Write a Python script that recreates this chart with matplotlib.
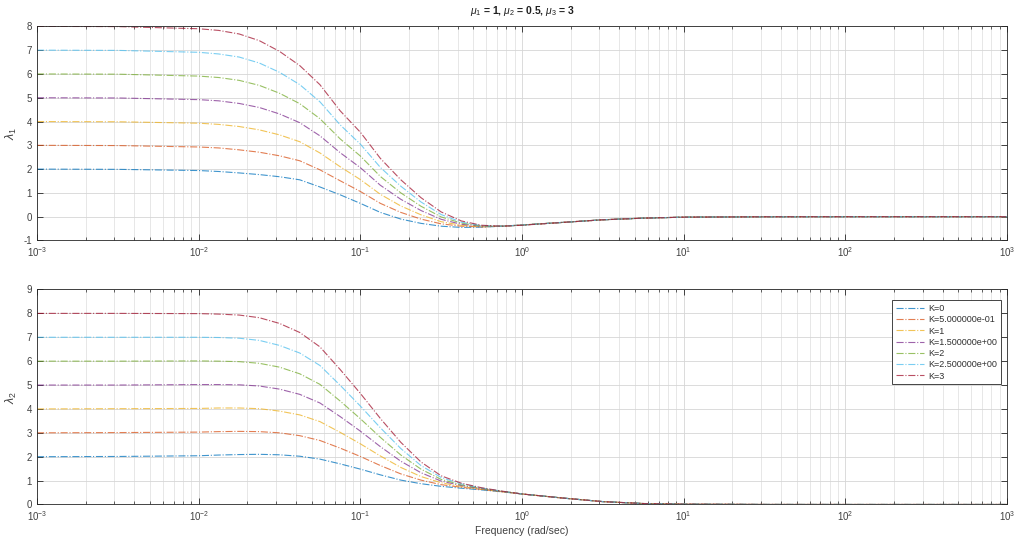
import numpy as np
import matplotlib.pyplot as plt
from matplotlib.ticker import LogLocator, NullFormatter, MultipleLocator


COLORS = {
    "blue"  : "#0072BD",
    "orange": "#D95319",
    "yellow": "#EDB120",
    "purple": "#7E2F8E",
    "green" : "#77AC30",
    "cyan"  : "#4DBEEE",
    "red"   : "#A2142F",
    "text"  : "#404040",
    "grid"  : "#d6d6d6",
    "minor" : "#e3e3e3",
}

# frequency points (rad/sec) the curves were read at
FREQ = [0.001, 0.00316, 0.01, 0.0133, 0.0178, 0.0237, 0.0316, 0.0422, 0.0562,
        0.075, 0.1, 0.133, 0.178, 0.237, 0.316, 0.422, 0.562, 0.75, 1.0,
        1.78, 3.16, 5.62, 10.0, 31.6, 100.0, 1000.0]

K_LABELS = ["K=0", "K=5.000000e-01", "K=1", "K=1.500000e+00",
            "K=2", "K=2.500000e+00", "K=3"]

# lambda_1 (top panel)
L1_K0  = [2.00, 1.99, 1.94, 1.90, 1.84, 1.77, 1.68, 1.55, 1.25, 0.92, 0.56, 0.18, -0.10,
          -0.28, -0.40, -0.45, -0.44, -0.40, -0.35, -0.24, -0.13, -0.06, -0.02, -0.003, 0.0, 0.0]
L1_K05 = [3.00, 2.99, 2.93, 2.89, 2.81, 2.71, 2.56, 2.35, 1.97, 1.51, 1.06, 0.56, 0.18,
          -0.10, -0.30, -0.40, -0.43, -0.40, -0.35, -0.24, -0.13, -0.06, -0.02, -0.003, 0.0, 0.0]
L1_K1  = [4.00, 3.99, 3.93, 3.88, 3.79, 3.65, 3.44, 3.15, 2.68, 2.10, 1.56, 0.94, 0.45,
          0.08, -0.21, -0.36, -0.42, -0.40, -0.35, -0.24, -0.13, -0.06, -0.02, -0.003, 0.0, 0.0]
L1_K15 = [5.00, 4.99, 4.92, 4.87, 4.76, 4.59, 4.32, 3.95, 3.40, 2.69, 2.06, 1.32, 0.73,
          0.26, -0.11, -0.32, -0.40, -0.40, -0.35, -0.24, -0.13, -0.06, -0.02, -0.003, 0.0, 0.0]
L1_K2  = [6.00, 5.99, 5.91, 5.85, 5.73, 5.52, 5.19, 4.75, 4.12, 3.27, 2.55, 1.69, 1.00,
          0.44, -0.01, -0.27, -0.39, -0.40, -0.35, -0.24, -0.13, -0.06, -0.02, -0.003, 0.0, 0.0]
L1_K25 = [7.00, 6.99, 6.91, 6.84, 6.71, 6.46, 6.07, 5.55, 4.83, 3.86, 3.05, 2.07, 1.28,
          0.62, 0.09, -0.23, -0.38, -0.40, -0.35, -0.24, -0.13, -0.06, -0.02, -0.003, 0.0, 0.0]
L1_K3  = [8.00, 7.99, 7.90, 7.83, 7.68, 7.40, 6.95, 6.35, 5.55, 4.45, 3.55, 2.45, 1.55,
          0.80, 0.20, -0.18, -0.36, -0.40, -0.36, -0.24, -0.13, -0.06, -0.02, -0.003, 0.0, 0.0]

# lambda_2 (bottom panel)
L2_K0  = [2.00, 2.01, 2.04, 2.07, 2.09, 2.10, 2.08, 2.02, 1.90, 1.70, 1.48, 1.24, 1.02,
          0.87, 0.76, 0.68, 0.61, 0.53, 0.44, 0.27, 0.12, 0.04, 0.012, 0.001, 0.0, 0.0]
L2_K05 = [3.00, 3.01, 3.03, 3.05, 3.06, 3.05, 3.00, 2.88, 2.68, 2.36, 2.01, 1.63, 1.28,
          1.02, 0.83, 0.72, 0.63, 0.535, 0.44, 0.27, 0.12, 0.04, 0.012, 0.001, 0.0, 0.0]
L2_K1  = [4.00, 4.01, 4.02, 4.04, 4.04, 4.01, 3.91, 3.75, 3.47, 3.02, 2.54, 2.03, 1.55,
          1.17, 0.91, 0.75, 0.64, 0.54, 0.44, 0.27, 0.12, 0.04, 0.012, 0.001, 0.0, 0.0]
L2_K15 = [5.00, 5.00, 5.02, 5.02, 5.01, 4.96, 4.83, 4.61, 4.25, 3.68, 3.07, 2.42, 1.81,
          1.33, 0.98, 0.79, 0.66, 0.545, 0.44, 0.27, 0.12, 0.04, 0.012, 0.001, 0.0, 0.0]
L2_K2  = [6.00, 6.00, 6.01, 6.00, 5.98, 5.91, 5.75, 5.47, 5.03, 4.33, 3.59, 2.81, 2.07,
          1.48, 1.05, 0.82, 0.67, 0.55, 0.44, 0.27, 0.12, 0.04, 0.012, 0.001, 0.0, 0.0]
L2_K25 = [7.00, 7.00, 7.00, 6.99, 6.96, 6.87, 6.66, 6.34, 5.82, 4.99, 4.12, 3.21, 2.34,
          1.63, 1.13, 0.86, 0.69, 0.555, 0.44, 0.27, 0.12, 0.04, 0.012, 0.001, 0.0, 0.0]
L2_K3  = [8.00, 8.00, 7.99, 7.97, 7.93, 7.82, 7.58, 7.20, 6.60, 5.65, 4.65, 3.60, 2.60,
          1.78, 1.20, 0.89, 0.70, 0.56, 0.44, 0.27, 0.12, 0.04, 0.012, 0.001, 0.0, 0.0]

LAMBDA1 = [L1_K0, L1_K05, L1_K1, L1_K15, L1_K2, L1_K25, L1_K3]
LAMBDA2 = [L2_K0, L2_K05, L2_K1, L2_K15, L2_K2, L2_K25, L2_K3]

LINE_COLORS = ["blue", "orange", "yellow", "purple", "green", "cyan", "red"]


def style_axes(ax, ylim, colors):
    ax.set_xscale("log")
    ax.set_xlim(1e-3, 1e3)
    ax.set_ylim(*ylim)
    ax.yaxis.set_major_locator(MultipleLocator(1))
    ax.xaxis.set_major_locator(LogLocator(base=10, numticks=10))
    ax.xaxis.set_minor_locator(LogLocator(base=10, subs=np.arange(2, 10), numticks=100))
    ax.xaxis.set_minor_formatter(NullFormatter())

    ax.grid(True, which="major", color=colors["grid"], lw=0.6)
    ax.grid(True, which="minor", axis="x", color=colors["minor"], lw=0.6)
    ax.set_axisbelow(True)

    ax.tick_params(which="both", direction="in", top=True, right=True,
                   labelsize=7, colors="#262626", labelcolor=colors["text"])
    ax.tick_params(which="major", length=4, width=0.6)
    ax.tick_params(which="minor", length=2, width=0.5)
    for sp in ax.spines.values():
        sp.set_color("#262626")
        sp.set_linewidth(0.6)


def plot_panel(ax, curves, colors, labels=None):
    for i, vals in enumerate(curves):
        ax.plot(FREQ, vals, ls="-.", lw=0.8, alpha=0.75,
                color=colors[LINE_COLORS[i]],
                label=labels[i] if labels else None)


def main():
    plt.rcParams["font.family"] = ["Liberation Sans", "DejaVu Sans"]
    plt.rcParams["axes.unicode_minus"] = False
    plt.rcParams["mathtext.fontset"] = "custom"
    plt.rcParams["mathtext.rm"] = "Liberation Sans"
    plt.rcParams["mathtext.it"] = "Liberation Sans:italic"
    plt.rcParams["mathtext.bf"] = "Liberation Sans:bold"

    fig = plt.figure(figsize=(10.2, 5.38), dpi=100, facecolor="white")

    ax1 = fig.add_axes([0.0363, 0.553, 0.951, 0.398])
    plot_panel(ax1, LAMBDA1, COLORS)
    style_axes(ax1, (-1, 8), COLORS)
    ax1.set_ylabel(r"$\lambda_1$", fontsize=9, color=COLORS["text"])
    ax1.yaxis.set_label_coords(-0.019, 0.5)
    ax1.set_title(r"$\mu_1$ = 1, $\mu_2$ = 0.5, $\mu_3$ = 3",
                  fontsize=7.5, fontweight="bold", color="#202020", pad=9)

    ax2 = fig.add_axes([0.0363, 0.0623, 0.951, 0.3996])
    plot_panel(ax2, LAMBDA2, COLORS, K_LABELS)
    style_axes(ax2, (0, 9), COLORS)
    ax2.set_ylabel(r"$\lambda_2$", fontsize=9, color=COLORS["text"])
    ax2.yaxis.set_label_coords(-0.019, 0.5)
    ax2.set_xlabel("Frequency (rad/sec)", fontsize=7.5, color=COLORS["text"], labelpad=2)

    leg = ax2.legend(loc="upper right", fontsize=6.5, frameon=True, fancybox=False,
                     edgecolor="#262626", framealpha=1, handlelength=3.2,
                     borderpad=0.4, labelspacing=0.25, handletextpad=0.4,
                     bbox_to_anchor=(0.998, 0.97))
    leg.get_frame().set_linewidth(0.6)
    for txt in leg.get_texts():
        txt.set_color("#303030")

    fig.savefig("out.png", dpi=100)


if __name__ == "__main__":
    main()
